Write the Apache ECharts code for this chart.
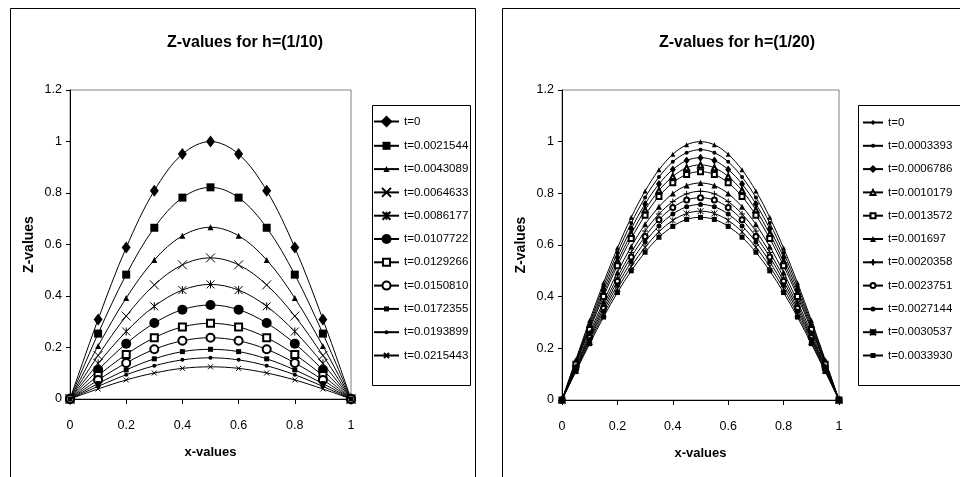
<!DOCTYPE html>
<html><head><meta charset="utf-8">
<script src="https://cdn.jsdelivr.net/npm/echarts@6/dist/echarts.min.js"></script>
<style>html,body{margin:0;padding:0;background:#fff}#c{width:960px;height:477px}</style>
</head><body><div id="c"></div>
<script>
const FONT = '"Liberation Sans",Arial,sans-serif';

// ---------- Left chart: h = 1/10 ----------
const titleLeft = 'Z-values for h=(1/10)';
const xLeft = [0, 0.1, 0.2, 0.3, 0.4, 0.5, 0.6, 0.7, 0.8, 0.9, 1];
const namesLeft = ['t=0','t=0.0021544','t=0.0043089','t=0.0064633','t=0.0086177','t=0.0107722','t=0.0129266','t=0.0150810','t=0.0172355','t=0.0193899','t=0.0215443'];
const L1  = [0, 0.309, 0.588, 0.809, 0.951, 1.000, 0.951, 0.809, 0.588, 0.309, 0];
const L2  = [0, 0.254, 0.483, 0.665, 0.782, 0.822, 0.782, 0.665, 0.483, 0.254, 0];
const L3  = [0, 0.206, 0.392, 0.540, 0.634, 0.667, 0.634, 0.540, 0.392, 0.206, 0];
const L4  = [0, 0.169, 0.322, 0.443, 0.521, 0.548, 0.521, 0.443, 0.322, 0.169, 0];
const L5  = [0, 0.138, 0.262, 0.360, 0.423, 0.445, 0.423, 0.360, 0.262, 0.138, 0];
const L6  = [0, 0.113, 0.215, 0.295, 0.347, 0.365, 0.347, 0.295, 0.215, 0.113, 0];
const L7  = [0, 0.091, 0.173, 0.238, 0.280, 0.294, 0.280, 0.238, 0.173, 0.091, 0];
const L8  = [0, 0.074, 0.140, 0.193, 0.226, 0.238, 0.226, 0.193, 0.140, 0.074, 0];
const L9  = [0, 0.060, 0.113, 0.156, 0.184, 0.193, 0.184, 0.156, 0.113, 0.060, 0];
const L10 = [0, 0.049, 0.094, 0.129, 0.152, 0.160, 0.152, 0.129, 0.094, 0.049, 0];
const L11 = [0, 0.039, 0.074, 0.101, 0.119, 0.125, 0.119, 0.101, 0.074, 0.039, 0];
const valuesLeft = [L1, L2, L3, L4, L5, L6, L7, L8, L9, L10, L11];

// ---------- Right chart: h = 1/20 ----------
const titleRight = 'Z-values for h=(1/20)';
const xRight = [0, 0.05, 0.1, 0.15, 0.2, 0.25, 0.3, 0.35, 0.4, 0.45, 0.5, 0.55, 0.6, 0.65, 0.7, 0.75, 0.8, 0.85, 0.9, 0.95, 1];
const namesRight = ['t=0','t=0.0003393','t=0.0006786','t=0.0010179','t=0.0013572','t=0.001697','t=0.0020358','t=0.0023751','t=0.0027144','t=0.0030537','t=0.0033930'];
const R1  = [0, 0.156, 0.309, 0.454, 0.588, 0.707, 0.809, 0.891, 0.951, 0.988, 1.000, 0.988, 0.951, 0.891, 0.809, 0.707, 0.588, 0.454, 0.309, 0.156, 0];
const R2  = [0, 0.151, 0.299, 0.440, 0.570, 0.685, 0.784, 0.863, 0.922, 0.957, 0.969, 0.957, 0.922, 0.863, 0.784, 0.685, 0.570, 0.440, 0.299, 0.151, 0];
const R3  = [0, 0.146, 0.290, 0.426, 0.552, 0.663, 0.759, 0.836, 0.892, 0.927, 0.938, 0.927, 0.892, 0.836, 0.759, 0.663, 0.552, 0.426, 0.290, 0.146, 0];
const R4  = [0, 0.142, 0.281, 0.413, 0.535, 0.643, 0.736, 0.811, 0.865, 0.899, 0.910, 0.899, 0.865, 0.811, 0.736, 0.643, 0.535, 0.413, 0.281, 0.142, 0];
const R5  = [0, 0.138, 0.273, 0.401, 0.520, 0.625, 0.715, 0.788, 0.841, 0.873, 0.884, 0.873, 0.841, 0.788, 0.715, 0.625, 0.520, 0.401, 0.273, 0.138, 0];
const R6  = [0, 0.131, 0.260, 0.381, 0.494, 0.594, 0.680, 0.748, 0.799, 0.830, 0.840, 0.830, 0.799, 0.748, 0.680, 0.594, 0.494, 0.381, 0.260, 0.131, 0];
const R7  = [0, 0.126, 0.250, 0.367, 0.475, 0.571, 0.654, 0.720, 0.768, 0.798, 0.808, 0.798, 0.768, 0.720, 0.654, 0.571, 0.475, 0.367, 0.250, 0.126, 0];
const R8  = [0, 0.122, 0.242, 0.355, 0.460, 0.554, 0.633, 0.698, 0.745, 0.774, 0.783, 0.774, 0.745, 0.698, 0.633, 0.554, 0.460, 0.355, 0.242, 0.122, 0];
const R9  = [0, 0.118, 0.234, 0.344, 0.445, 0.535, 0.612, 0.674, 0.720, 0.748, 0.757, 0.748, 0.720, 0.674, 0.612, 0.535, 0.445, 0.344, 0.234, 0.118, 0];
const R10 = [0, 0.114, 0.226, 0.332, 0.430, 0.517, 0.591, 0.651, 0.695, 0.722, 0.731, 0.722, 0.695, 0.651, 0.591, 0.517, 0.430, 0.332, 0.226, 0.114, 0];
const R11 = [0, 0.110, 0.218, 0.321, 0.416, 0.500, 0.572, 0.630, 0.672, 0.699, 0.707, 0.699, 0.672, 0.630, 0.572, 0.500, 0.416, 0.321, 0.218, 0.110, 0];
const valuesRight = [R1, R2, R3, R4, R5, R6, R7, R8, R9, R10, R11];

const xTickLabels = ['0', '0.2', '0.4', '0.6', '0.8', '1'];
const yTickLabels = ['0', '0.2', '0.4', '0.6', '0.8', '1', '1.2'];
const xName = 'x-values';
const yName = 'Z-values';

// ---------- marker styles ----------
const P_X = 'path://M0,0L10,10M10,0L0,10';
const P_AST = 'path://M0,0L10,10M10,0L0,10M5,0L5,10';
const P_PLUS = 'path://M5,0L5,10M0,5L10,5';
const marksLeft = [
  {s:'diamond', z:[9,12]}, {s:'rect', z:8}, {s:'triangle', z:6}, {s:P_X, z:9},
  {s:P_AST, z:8}, {s:'circle', z:10}, {s:'emptyRect', z:7}, {s:'emptyCircle', z:8},
  {s:'rect', z:5}, {s:'circle', z:4}, {s:P_X, z:5}
];
const marksRight = [
  {s:'triangle', z:5}, {s:'circle', z:4}, {s:'diamond', z:[6,8]}, {s:'emptyTriangle', z:5},
  {s:'emptyRect', z:5}, {s:'triangle', z:6}, {s:P_PLUS, z:6}, {s:'emptyCircle', z:5},
  {s:'circle', z:5}, {s:P_AST, z:6}, {s:'rect', z:5}
];

function mkSeries(names, xs, vals, marks, gi) {
  return names.map((n, k) => {
    const m = marks[k];
    const isPath = m.s.indexOf('path://') === 0;
    const isEmpty = m.s.indexOf('empty') === 0;
    return {
      name: n, type: 'line', xAxisIndex: gi, yAxisIndex: gi,
      data: xs.map((x, i) => [x, vals[k][i]]),
      smooth: 0.35, symbol: m.s, symbolSize: m.z, showAllSymbol: true,
      lineStyle: {color: '#000', width: 1},
      itemStyle: isPath ? {color: 'rgba(0,0,0,0)', borderColor: '#000', borderWidth: 1}
                        : (isEmpty ? {color: '#000', borderWidth: 1} : {color: '#000'}),
      emphasis: {disabled: true}, animation: false, z: 2 + k
    };
  });
}

function xAx(gi) {
  return {
    type: 'value', gridIndex: gi, min: 0, max: 1, interval: 0.2,
    name: xName, nameLocation: 'middle', nameGap: 47,
    nameTextStyle: {fontFamily: FONT, fontWeight: 'bold', fontSize: 13, color: '#000'},
    axisLine: {show: true, onZero: false, lineStyle: {color: '#000', width: 1}},
    axisTick: {show: true, length: 5, lineStyle: {color: '#000'}},
    axisLabel: {margin: 20, fontFamily: FONT, fontSize: 12.5, color: '#000',
      formatter: v => xTickLabels[Math.round(v / 0.2)]},
    splitLine: {show: false}
  };
}
function yAx(gi) {
  return {
    type: 'value', gridIndex: gi, min: 0, max: 1.2, interval: 0.2,
    name: yName, nameLocation: 'middle', nameGap: 34, nameRotate: 90,
    nameTextStyle: {fontFamily: FONT, fontWeight: 'bold', fontSize: 14, color: '#000'},
    axisLine: {show: true, onZero: false, lineStyle: {color: '#000', width: 1}},
    axisTick: {show: true, length: 4, lineStyle: {color: '#000'}},
    axisLabel: {margin: 8, fontFamily: FONT, fontSize: 12.5, color: '#000',
      formatter: v => yTickLabels[Math.round(v / 0.2)]},
    splitLine: {show: false}
  };
}

const LEG_FONT = 11.5;
const LEG_TH = 13;
function mkLegends(names, marks, left, c0, step, itemWidth) {
  return names.map((n, k) => {
    const z = Array.isArray(marks[k].z) ? marks[k].z[1] : marks[k].z;
    const ih = Math.max(z / 0.8, 4);
    return {
      data: [n], orient: 'vertical', left: left,
      top: c0 + k * step - Math.max(ih, LEG_TH) / 2,
      itemWidth: itemWidth, itemHeight: ih, padding: 0, selectedMode: false,
      textStyle: {fontFamily: FONT, fontSize: LEG_FONT, color: '#000'}
    };
  });
}

const chart = echarts.init(document.getElementById('c'), null, {renderer: 'canvas'});
chart.setOption({
  animation: false,
  backgroundColor: '#fff',
  title: [
    {text: titleLeft, left: 240, top: 30, textAlign: 'center',
     textStyle: {fontFamily: FONT, fontWeight: 'bold', fontSize: 16, color: '#000'}},
    {text: titleRight, left: 732, top: 30, textAlign: 'center',
     textStyle: {fontFamily: FONT, fontWeight: 'bold', fontSize: 16, color: '#000'}}
  ],
  grid: [
    {left: 70, right: 609, top: 90, bottom: 78, show: true, borderColor: '#808080', borderWidth: 1, containLabel: false},
    {left: 562, right: 121, top: 90, bottom: 77, show: true, borderColor: '#808080', borderWidth: 1, containLabel: false}
  ],
  xAxis: [xAx(0), xAx(1)],
  yAxis: [yAx(0), yAx(1)],
  legend: mkLegends(namesLeft, marksLeft, 373, 123, 23.3, 25)
    .concat(mkLegends(namesRight, marksRight, 862, 123, 23.3, 20)),
  graphic: [
    {type: 'rect', silent: true, shape: {x: 10.5, y: 8.5, width: 465, height: 490}, style: {fill: 'none', stroke: '#000', lineWidth: 1}},
    {type: 'rect', silent: true, shape: {x: 502.5, y: 8.5, width: 480, height: 490}, style: {fill: 'none', stroke: '#000', lineWidth: 1}},
    {type: 'rect', silent: true, shape: {x: 372.5, y: 105.5, width: 98, height: 280}, style: {fill: 'none', stroke: '#000', lineWidth: 1}},
    {type: 'rect', silent: true, shape: {x: 858.5, y: 105.5, width: 120, height: 280}, style: {fill: 'none', stroke: '#000', lineWidth: 1}}
  ],
  series: mkSeries(namesLeft, xLeft, valuesLeft, marksLeft, 0)
    .concat(mkSeries(namesRight, xRight, valuesRight, marksRight, 1))
});
</script>
</body></html>
